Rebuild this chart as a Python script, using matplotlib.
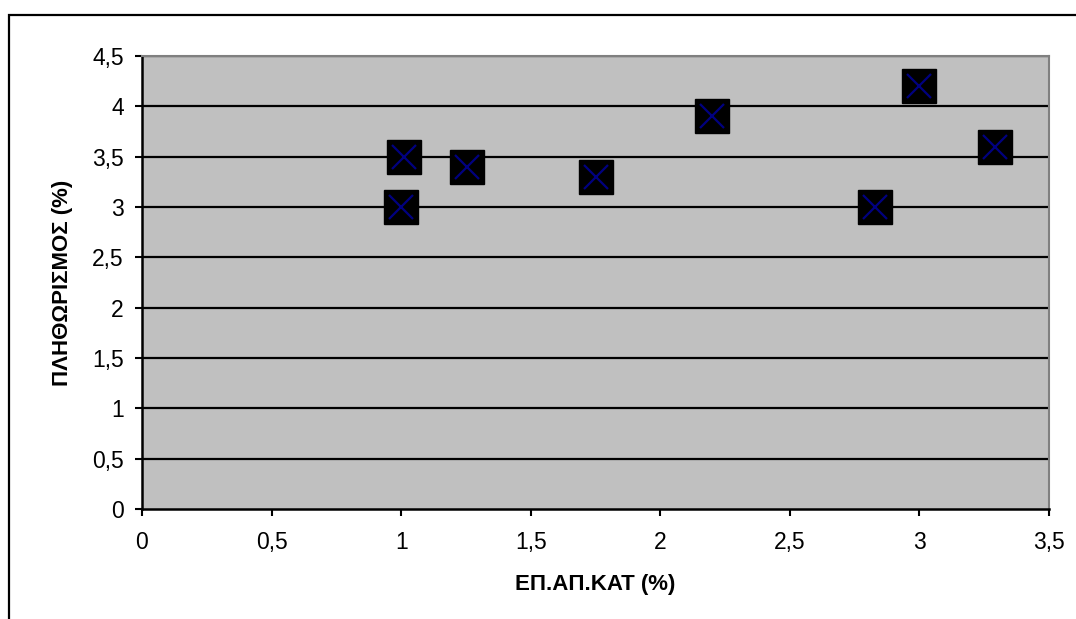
import matplotlib.pyplot as plt
from matplotlib.patches import Rectangle

# Δεδομένα
ep_ap_kat = [1.0, 1.01, 1.255, 1.75, 2.2, 2.83, 3.0, 3.29]
plithorismos = [3.0, 3.5, 3.4, 3.3, 3.9, 3.0, 4.2, 3.6]
x_ticks = [0, 0.5, 1, 1.5, 2, 2.5, 3, 3.5]
y_ticks = [0, 0.5, 1, 1.5, 2, 2.5, 3, 3.5, 4, 4.5]

def comma(v):
    return ('%g' % v).replace('.', ',')

plt.rcParams['font.family'] = ['Liberation Sans', 'DejaVu Sans']

fig = plt.figure(figsize=(10.76, 6.19), dpi=100)
W, H = 1076, 619
ax = fig.add_axes([142 / W, 1 - 509 / H, (1049 - 142) / W, (509 - 56) / H])
ax.set_facecolor('#C0C0C0')

# εξωτερικό πλαίσιο
fig.patches.append(Rectangle((9 / W, -0.05), 1.2, 1 - 15 / H + 0.05, transform=fig.transFigure,
                             fill=False, edgecolor='black', linewidth=1.6))

for v in y_ticks[1:]:
    ax.axhline(v, color='black', linewidth=1.6, zorder=1)

ax.plot(ep_ap_kat, plithorismos, linestyle='none', marker='s', markersize=24,
        markerfacecolor='black', markeredgecolor='black', zorder=3)
ax.plot(ep_ap_kat, plithorismos, linestyle='none', marker='x', markersize=17,
        markeredgecolor='#000080', markeredgewidth=1.6, zorder=4)

ax.set_xlim(0, 3.5)
ax.set_ylim(0, 4.5)
ax.set_xticks(x_ticks)
ax.set_yticks(y_ticks)
ax.set_xticklabels([comma(v) for v in x_ticks], fontsize=16.5)
ax.set_yticklabels([comma(v) for v in y_ticks], fontsize=16.5)
ax.tick_params(direction='out', length=5, width=1.5)
ax.tick_params(axis='x', pad=11)
ax.tick_params(axis='y', pad=8)

for s in ['left', 'bottom']:
    ax.spines[s].set_color('black')
    ax.spines[s].set_linewidth(1.8)
for s in ['right', 'top']:
    ax.spines[s].set_color('#808080')
    ax.spines[s].set_linewidth(1.5)

ax.set_xlabel('ΕΠ.ΑΠ.ΚΑΤ (%)', fontsize=16, fontweight='bold', labelpad=14)
ax.set_ylabel('ΠΛΗΘΩΡΙΣΜΟΣ (%)', fontsize=16, fontweight='bold', labelpad=14)

fig.savefig('out.png', dpi=100)
